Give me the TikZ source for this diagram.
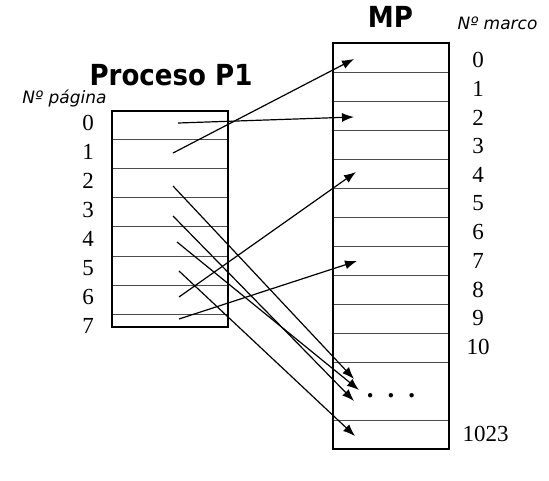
\documentclass[tikz,border=0pt]{standalone}
\usepackage{fontspec}
\setmainfont{Liberation Serif}
\newfontfamily\titulo[FakeStretch=0.9]{DejaVu Sans}
\newfontfamily\rotulo{DejaVu Sans}
\usepackage{tikz}
\usetikzlibrary{arrows.meta,positioning}

\begin{document}
\begin{tikzpicture}[x=1pt,y=-1pt,
  flecha/.style={line width=1.2pt,-{Latex[length=12pt,width=9pt]}},
  borde/.style={line width=2.4pt},
  fila/.style={line width=0.9pt,black!70},
  num/.style={font=\fontsize{23}{23}\selectfont,inner sep=0pt},
  cabecera/.style={font=\titulo\bfseries\fontsize{29}{29}\selectfont,anchor=base,inner sep=0pt},
  leyenda/.style={font=\rotulo\itshape\fontsize{17}{17}\selectfont,anchor=base,inner sep=0pt}]
\useasboundingbox (0,0) rectangle (549,480);
%Tabla de paginas del proceso
\foreach \y in {139,168,197,226,256,285,314}{
\draw[fila] (112,\y) -- (228,\y);
}
\draw[borde] (112,111) rectangle (228,327);
\foreach \i in {0,...,7}{
\node[num] (np\i) at (88,123+29*\i) {\i};
}
\node[cabecera] (proceso) at (171,85) {Proceso P1};
\node[leyenda] (npagina) at (64.5,103) {Nº página};
%Memoria principal
\foreach \y in {72,101,...,362,420}{
\draw[fila] (333,\y) -- (449,\y);
}
\draw[borde] (333,43) rectangle (449,449);
\foreach \i in {0,...,10}{
\node[num] (nm\i) at (478,60+28.7*\i) {\i};
}
\node[num] (nm1023) at (485.5,434) {1023};
\node[num,font=\fontsize{27}{27}\selectfont\bfseries,anchor=base] (puntos) at (391,397) {.\hspace{14pt}.\hspace{14pt}.};
\node[cabecera] (mp) at (390.5,27) {MP};
\node[leyenda] (nmarco) at (497.5,29) {Nº marco};
%Origen y destino de las flechas
\coordinate (p0) at (178,123);
\coordinate (p1) at (173,153);
\coordinate (p2) at (173,186);
\coordinate (p3) at (173,216);
\coordinate (p4) at (177,242);
\coordinate (p5) at (179,271);
\coordinate (p6) at (179,297);
\coordinate (p7) at (179,319);
\coordinate (m0) at (354,59);
\coordinate (m2) at (354,117);
\coordinate (m4) at (356,172);
\coordinate (m7) at (357,261);
\coordinate (d1) at (354,379);
\coordinate (d2) at (359,390);
\coordinate (d3) at (354,401);
\coordinate (m1023) at (355,436);
\foreach \a/\b in {p0/m2,p1/m0,p2/d1,p3/d3,p4/d2,p5/m1023,p6/m4,p7/m7}{
\draw[flecha] (\a) -- (\b);
}
\end{tikzpicture}
\end{document}
